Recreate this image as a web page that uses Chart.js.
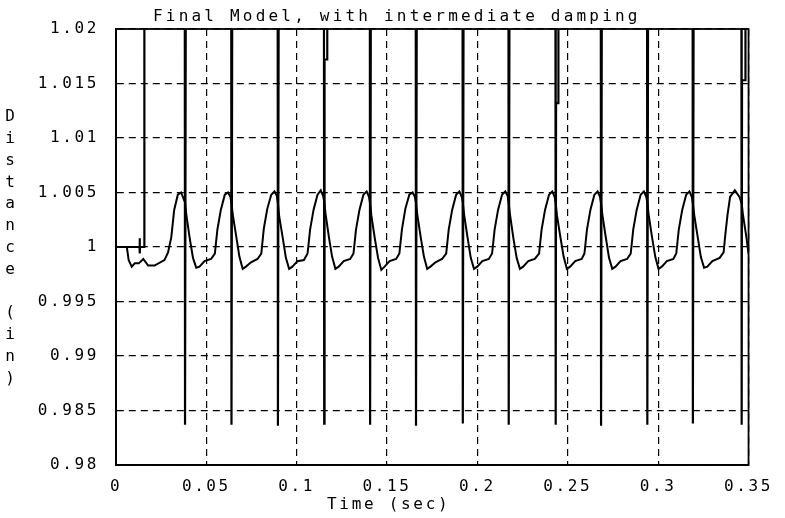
<!DOCTYPE html>
<html><head><meta charset="utf-8">
<script src="https://cdn.jsdelivr.net/npm/chart.js@4"></script>
<style>html,body{margin:0;padding:0;background:#fff}canvas{display:block}</style>
</head><body>
<canvas id="c" width="785" height="518"></canvas>
<script>
const titleText = 'Final Model, with intermediate damping';
const xTitleText = 'Time (sec)';
const yTitleChars = ['D','i','s','t','a','n','c','e','','(','i','n',')'];
const xTickValues = [0,0.05,0.1,0.15,0.2,0.25,0.3,0.35];
const xTickLabels = ['0','0.05','0.1','0.15','0.2','0.25','0.3','0.35'];
const yTickValues = [0.98,0.985,0.99,0.995,1,1.005,1.01,1.015,1.02];
const yTickLabels = ['0.98','0.985','0.99','0.995','1','1.005','1.01','1.015','1.02'];

// smooth response trace (time in s, distance in in)
const waveTime = [
0.0000,0.0060,0.0070,0.0087,0.0104,0.0126,0.0151,0.0178,0.0213,0.0268,0.0288,0.0306,0.0322,0.0342,0.0360,0.0377,
0.0382,0.0389,0.0408,0.0426,0.0444,0.0462,0.0490,0.0526,0.0547,0.0561,0.0580,0.0602,0.0620,0.0633,
0.0639,0.0646,0.0665,0.0683,0.0701,0.0719,0.0747,0.0783,0.0804,0.0818,0.0837,0.0859,0.0877,0.0890,
0.0896,0.0903,0.0922,0.0940,0.0958,0.0976,0.1004,0.1040,0.1060,0.1074,0.1093,0.1115,0.1133,0.1146,
0.1152,0.1159,0.1178,0.1196,0.1214,0.1232,0.1260,0.1296,0.1314,0.1328,0.1347,0.1369,0.1387,0.1400,
0.1406,0.1413,0.1432,0.1450,0.1468,0.1486,0.1514,0.1550,0.1568,0.1582,0.1601,0.1623,0.1641,0.1654,
0.1660,0.1667,0.1686,0.1704,0.1722,0.1740,0.1768,0.1804,0.1827,0.1841,0.1860,0.1882,0.1900,0.1913,
0.1919,0.1926,0.1945,0.1963,0.1981,0.1999,0.2027,0.2063,0.2081,0.2095,0.2114,0.2136,0.2154,0.2167,
0.2173,0.2180,0.2199,0.2217,0.2235,0.2253,0.2281,0.2317,0.2341,0.2355,0.2374,0.2396,0.2414,0.2427,
0.2433,0.2440,0.2459,0.2477,0.2495,0.2513,0.2541,0.2577,0.2592,0.2606,0.2625,0.2647,0.2665,0.2678,
0.2684,0.2691,0.2710,0.2728,0.2746,0.2764,0.2792,0.2828,0.2848,0.2862,0.2881,0.2903,0.2921,0.2934,
0.2940,0.2947,0.2966,0.2984,0.3002,0.3020,0.3048,0.3084,0.3100,0.3114,0.3133,0.3155,0.3173,0.3186,
0.3192,0.3199,0.3218,0.3236,0.3254,0.3272,0.3300,0.3340,0.3362,0.3372,0.3384,0.3398,0.3424,0.3450,
0.3462,0.3469,0.3488,0.3500
];
const waveDist = [
1.0000,1.0000,0.9988,0.9982,0.9985,0.9985,0.9989,0.9983,0.9983,0.9988,0.9995,1.0009,1.0034,1.0048,1.0050,1.0043,
1.0041,1.0030,1.0008,0.9990,0.9981,0.9982,0.9987,0.9989,0.9994,1.0016,1.0034,1.0048,1.0050,1.0046,
1.0040,1.0030,1.0010,0.9991,0.9980,0.9982,0.9986,0.9989,0.9994,1.0017,1.0035,1.0048,1.0051,1.0047,
1.0040,1.0028,1.0009,0.9990,0.9980,0.9982,0.9987,0.9988,0.9994,1.0016,1.0034,1.0048,1.0052,1.0047,
1.0042,1.0031,1.0009,0.9991,0.9980,0.9982,0.9987,0.9989,0.9994,1.0016,1.0034,1.0048,1.0051,1.0046,
1.0040,1.0029,1.0008,0.9990,0.9979,0.9982,0.9987,0.9989,0.9994,1.0016,1.0035,1.0048,1.0050,1.0046,
1.0040,1.0030,1.0009,0.9991,0.9980,0.9982,0.9986,0.9989,0.9994,1.0016,1.0034,1.0048,1.0051,1.0046,
1.0041,1.0030,1.0009,0.9990,0.9980,0.9982,0.9987,0.9989,0.9994,1.0016,1.0034,1.0048,1.0051,1.0047,
1.0040,1.0030,1.0008,0.9990,0.9980,0.9982,0.9987,0.9989,0.9994,1.0016,1.0034,1.0048,1.0051,1.0046,
1.0040,1.0029,1.0009,0.9991,0.9980,0.9982,0.9987,0.9989,0.9994,1.0016,1.0034,1.0048,1.0051,1.0046,
1.0040,1.0030,1.0009,0.9990,0.9980,0.9982,0.9987,0.9989,0.9994,1.0016,1.0034,1.0048,1.0051,1.0046,
1.0041,1.0030,1.0009,0.9991,0.9980,0.9982,0.9987,0.9989,0.9994,1.0016,1.0034,1.0048,1.0051,1.0046,
1.0040,1.0030,1.0010,0.9991,0.9981,0.9982,0.9987,0.9990,0.9995,1.0012,1.0030,1.0046,1.0052,1.0046,
1.0040,1.0030,1.0009,0.9994
];

// spike trace (mostly off-scale above 1.02)
const spikeTime = [
0.0000,0.0130,0.0131,0.0132,0.0133,0.0156,0.0157,
0.0380,0.0382,0.0388,
0.0637,0.0639,0.0645,
0.0894,0.0896,0.0902,
0.1150,0.1152,0.1154,0.1168,0.1169,
0.1404,0.1406,0.1412,
0.1658,0.1660,0.1666,
0.1917,0.1919,0.1925,
0.2171,0.2173,0.2179,
0.2431,0.2433,0.2435,0.2447,0.2448,
0.2682,0.2684,0.2690,
0.2938,0.2940,0.2946,
0.3190,0.3192,0.3198,
0.3460,0.3462,0.3464,0.3482,0.3483,
0.3500
];
const spikeDist = [
1.0000,1.0000,1.0008,0.9994,1.0000,1.0000,1.0400,
1.0400,0.9837,1.0400,
1.0400,0.9837,1.0400,
1.0400,0.9836,1.0400,
1.0400,0.9838,1.0172,1.0172,1.0400,
1.0400,0.9837,1.0400,
1.0400,0.9836,1.0400,
1.0400,0.9838,1.0400,
1.0400,0.9837,1.0400,
1.0400,0.9837,1.0132,1.0132,1.0400,
1.0400,0.9836,1.0400,
1.0400,0.9837,1.0400,
1.0400,0.9838,1.0400,
1.0400,0.9837,1.0153,1.0153,1.0400,
1.0400
];

const wavePts = waveTime.map((t,i)=>({x:t, y:waveDist[i]}));
const spikePts = spikeTime.map((t,i)=>({x:t, y:spikeDist[i]}));

const FONT = '"DejaVu Sans Mono"';

const textPlugin = {
  id: 'texts',
  beforeLayout(chart){ chart.ctx.letterSpacing = '2.6px'; },
  beforeDraw(chart){
    const ctx = chart.ctx;
    ctx.save(); ctx.fillStyle = '#fff'; ctx.fillRect(0,0,chart.width,chart.height); ctx.restore();
    ctx.letterSpacing = '2.6px';
  },
  afterDraw(chart){
    const ctx = chart.ctx, a = chart.chartArea;
    ctx.save();
    ctx.setLineDash([]);
    ctx.strokeStyle = '#000'; ctx.lineWidth = 1.8;
    ctx.strokeRect(a.left, a.top, a.right - a.left, a.bottom - a.top);
    ctx.fillStyle = '#000';
    ctx.font = '16px ' + FONT;
    ctx.textAlign = 'left'; ctx.textBaseline = 'alphabetic';
    ctx.letterSpacing = '3.2px';
    ctx.fillText(titleText, 153, 21);
    ctx.letterSpacing = '2.7px';
    ctx.fillText(xTitleText, 327, 509);
    ctx.letterSpacing = '0px';
    ctx.textAlign = 'center'; ctx.textBaseline = 'middle';
    yTitleChars.forEach((ch,i)=>{ if (ch) ctx.fillText(ch, 10, 117 + i*21.8); });
    ctx.restore();
  }
};

new Chart(document.getElementById('c'), {
  type: 'scatter',
  data: { datasets: [
    { data: spikePts, showLine: true, borderColor: '#000', borderWidth: 2.2, pointRadius: 0, tension: 0 },
    { data: wavePts, showLine: true, borderColor: '#000', borderWidth: 2, pointRadius: 0, tension: 0 }
  ]},
  options: {
    responsive: false, animation: false, devicePixelRatio: 1,
    layout: { padding: { top: 29, right: 28, left: 0, bottom: 0 } },
    plugins: { legend: { display: false }, tooltip: { enabled: false }, title: { display: false } },
    scales: {
      x: {
        type: 'linear', min: 0, max: 0.35,
        afterFit(s){ s.height = 53; },
        afterBuildTicks(s){ s.ticks = xTickValues.map(v=>({value:v})); },
        ticks: { autoSkip: false, maxRotation: 0, minRotation: 0, padding: 12, color: '#000',
                 font: { family: FONT, size: 16 }, callback: (v,i)=>xTickLabels[i] },
        grid: { color: '#000', lineWidth: 1.2, drawTicks: false },
        border: { display: true, color: '#000', width: 1.8, dash: [7,5] }
      },
      y: {
        type: 'linear', min: 0.98, max: 1.02,
        afterFit(s){ s.width = 116; },
        afterBuildTicks(s){ s.ticks = yTickValues.map(v=>({value:v})); },
        ticks: { autoSkip: false, padding: 17, color: '#000',
                 font: { family: FONT, size: 16 }, callback: (v,i)=>yTickLabels[i] },
        grid: { color: '#000', lineWidth: 1.2, drawTicks: false },
        border: { display: true, color: '#000', width: 1.8, dash: [7,5] }
      }
    }
  },
  plugins: [textPlugin]
});
</script>
</body></html>
